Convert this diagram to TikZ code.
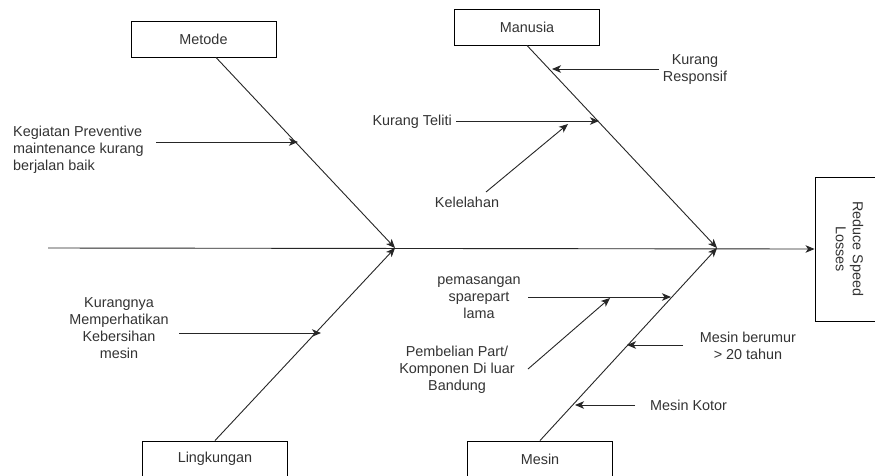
\documentclass[tikz,border=0pt]{standalone}
\usepackage{fontspec}
\setmainfont{Liberation Sans}
\usetikzlibrary{arrows.meta,calc}
\begin{document}
\begin{tikzpicture}[x=1pt,y=-1pt,
  every node/.style={font=\fontsize{14.4pt}{17pt}\selectfont, text=black!80},
  catbox/.style={draw=black, line width=0.9pt, minimum width=145pt, minimum height=36pt, inner sep=0pt},
  bone/.style={draw=black!85, line width=0.9pt, -{Stealth[length=9pt,width=7.5pt,inset=2.5pt]}},
  lbl/.style={align=center, inner sep=0pt}]
\useasboundingbox (0,0) rectangle (875,475);
\clip (0,0) rectangle (875,475);
\fill[white] (0,0) rectangle (875,475);

% category boxes
\node[catbox] (metode) at (203.5,39) {Metode};
\node[catbox] (manusia) at (527,27) {Manusia};
\node[catbox] (lingk) at (215,459) {Lingkungan};
\node[catbox] (mesin) at (540,459) {Mesin};
\node[draw=black, line width=0.9pt, minimum width=144pt, minimum height=69pt, inner sep=0pt, rotate=-90, align=center] (effect) at (849.5,249) {Reduce Speed\\Losses};

% spine
\coordinate (spstart) at (48,248);
\coordinate (j1) at (395,248);
\coordinate (j2) at (717,248);
\draw[bone] (spstart) -- (effect.south);

% main bones
\draw[bone] ($(metode.south)+(12.5,0)$) -- (j1);
\draw[bone] (lingk.north) -- (j1);
\draw[bone] (manusia.south) -- (j2);
\draw[bone] (mesin.north) -- (j2);

% Metode causes
\node[lbl, align=left, anchor=west] (prev) at (13,150) {Kegiatan Preventive\\maintenance kurang\\berjalan baik};
\coordinate (prevs) at (156,142);
\coordinate (prevt) at (298,142);
\draw[bone] (prevs) -- (prevt);

% Manusia causes
\node[lbl] (resp) at (695,70) {Kurang\\Responsif};
\coordinate (resps) at (659,69);
\coordinate (respt) at (552,69);
\draw[bone] (resps) -- (respt);

\node[lbl, anchor=east] (teliti) at (452,122) {Kurang Teliti};
\coordinate (telitit) at (599,121);
\draw[bone] ($(teliti.east)+(4,-1)$) -- (telitit);

\node[lbl] (lelah) at (467,202) {Kelelahan};
\coordinate (lelahs) at (486,192);
\coordinate (lelaht) at (568,124);
\draw[bone] (lelahs) -- (lelaht);

% Lingkungan causes
\node[lbl] (bersih) at (119,328.5) {Kurangnya\\Memperhatikan\\Kebersihan\\mesin};
\coordinate (bersihs) at (179,333);
\coordinate (bersiht) at (321,333);
\draw[bone] (bersihs) -- (bersiht);

% Mesin causes
\node[lbl] (pasang) at (479,298) {pemasangan\\sparepart\\lama};
\coordinate (pasangs) at (528,297);
\coordinate (pasangt) at (671,297);
\draw[bone] (pasangs) -- (pasangt);

\node[lbl] (beli) at (457,370) {Pembelian Part/\\Komponen Di luar\\Bandung};
\coordinate (belis) at (528,369);
\coordinate (belit) at (610,298);
\draw[bone] (belis) -- (belit);

\node[lbl] (umur) at (748,346) {Mesin berumur\\> 20 tahun};
\coordinate (umurs) at (683,345);
\coordinate (umurt) at (627,345);
\draw[bone] (umurs) -- (umurt);

\node[lbl, anchor=west] (kotor) at (650,405) {Mesin Kotor};
\coordinate (kotors) at (635,405);
\coordinate (kotort) at (575,405);
\draw[bone] (kotors) -- (kotort);
\end{tikzpicture}
\end{document}
